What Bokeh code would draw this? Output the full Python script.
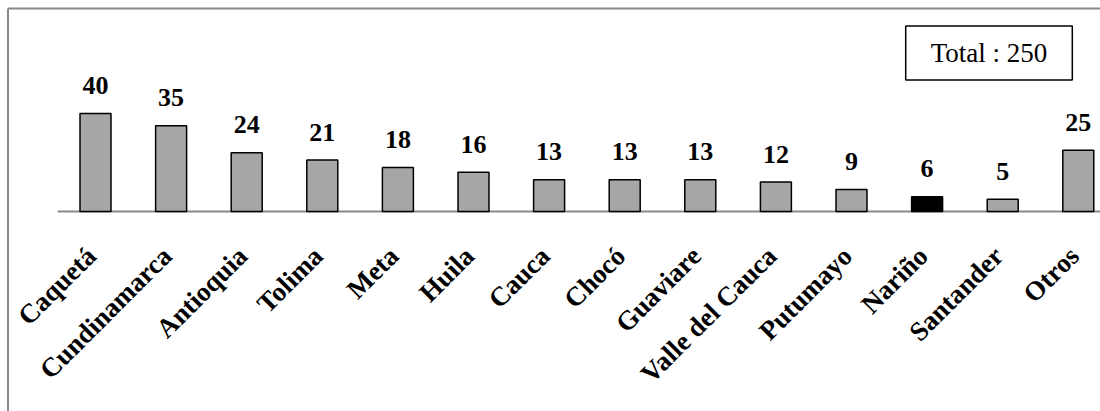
import math
from bokeh.plotting import figure
from bokeh.models import ColumnDataSource, Label, Range1d
from bokeh.core.properties import value
from bokeh.embed import file_html
from bokeh.resources import INLINE

# ---- data ----
categories = ["Caquetá", "Cundinamarca", "Antioquia", "Tolima", "Meta", "Huila",
              "Cauca", "Chocó", "Guaviare", "Valle del Cauca", "Putumayo",
              "Nariño", "Santander", "Otros"]
counts = [40, 35, 24, 21, 18, 16, 13, 13, 13, 12, 9, 6, 5, 25]
highlight = "Nariño"
total_label = "Total : 250"

FONT = "Liberation Serif"
GRAY = "#A6A6A6"
LINE = "#898989"

W, H = 1100, 411
# layout: first category centre, category pitch, baseline row, pixels per unit
X0, PITCH, BASE, PPU = 95.0, 75.6, 211.0, 2.45


def dx(px):
    return (px - X0) / PITCH


def dy(py):
    return (BASE - py) / PPU


xs = list(range(len(categories)))
colors = ["#000000" if c == highlight else GRAY for c in categories]
src = ColumnDataSource(dict(x=xs, cat=categories, n=counts,
                            lbl=[str(v) for v in counts], color=colors))

p = figure(width=W, height=H, output_backend="svg", toolbar_location=None,
           x_range=Range1d(dx(0), dx(W)), y_range=Range1d(dy(H), dy(0)),
           min_border_left=0, min_border_top=0, min_border_right=0, min_border_bottom=0)
p.axis.visible = False
p.grid.visible = False
p.outline_line_color = None
p.border_fill_color = "white"
p.background_fill_color = "white"

# chart-area border (top and left edges only visible)
p.segment(x0=dx(7.5), y0=dy(8), x1=dx(W + 5), y1=dy(8), line_color=LINE, line_width=2)
p.segment(x0=dx(7.5), y0=dy(8), x1=dx(7.5), y1=dy(H + 5), line_color=LINE, line_width=2)

# baseline
p.segment(x0=-0.5, y0=0, x1=len(categories) - 0.5, y1=0, line_color=LINE, line_width=2)

# bars
p.vbar(x="x", top="n", bottom=0, width=0.41, source=src, fill_color="color",
       line_color="black", line_width=1.5)

# value labels
p.text(x="x", y="n", text="lbl", source=src, text_align="center",
       text_baseline="alphabetic", y_offset=-28, text_font=value(FONT),
       text_font_style="bold", text_font_size="26px", text_color="black")

# category labels (rotated)
p.text(x="x", y=dy(251), text="cat", source=src, text_align="right",
       text_baseline="middle", angle=math.pi / 4, x_offset=-4, text_font=value(FONT),
       text_font_style="bold", text_font_size="27px", text_color="black")

# total box
p.add_layout(Label(x=dx(988.5), y=dy(52.5), text=total_label, text_align="center",
                   text_baseline="middle", text_font=FONT, text_font_size="27px",
                   text_color="black", border_line_color="black", border_line_width=1.5,
                   background_fill_color="white", padding=(25, 12)))

open("out.html", "w").write(file_html(p, INLINE))
